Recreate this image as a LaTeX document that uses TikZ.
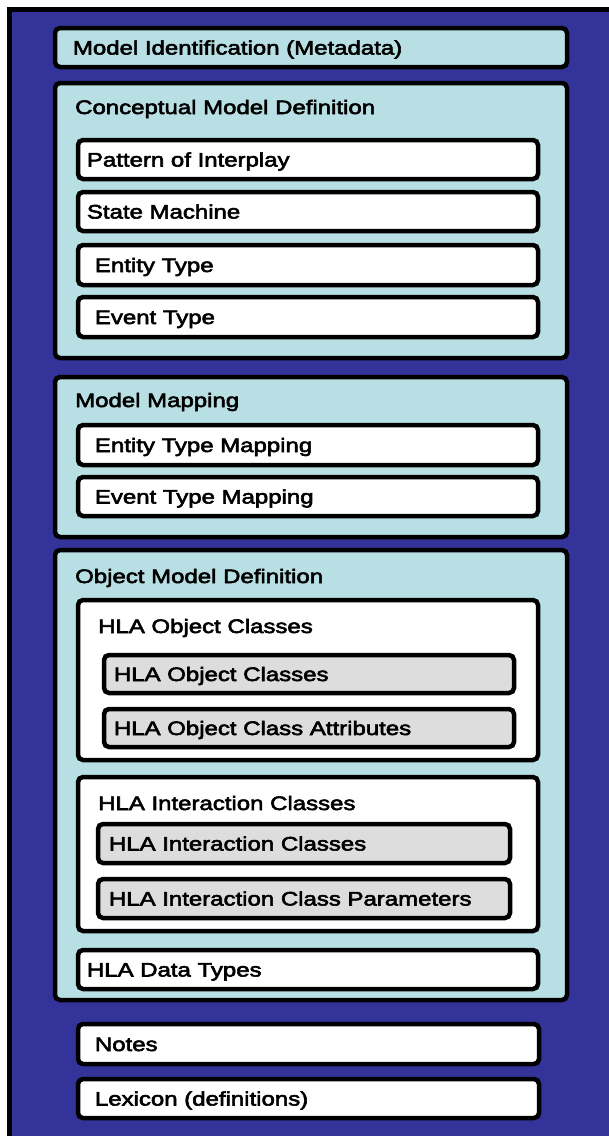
\documentclass[tikz,border=0pt]{standalone}
\usepackage{fontspec}
\setmainfont{Liberation Sans}[FakeStretch=1.23,FakeBold=3]
\usetikzlibrary{fit}
\definecolor{bgblue}{RGB}{51,51,153}
\definecolor{panelcyan}{RGB}{184,224,228}
\definecolor{itemgray}{RGB}{221,221,221}
\tikzset{
  frame/.style={draw=black, line width=4.5bp, rounded corners=5bp, inner sep=0pt},
  cyanbox/.style={frame, fill=panelcyan},
  whitebox/.style={frame, fill=white},
  graybox/.style={frame, fill=itemgray},
  txt/.style={font=\fontsize{19.5bp}{22bp}\selectfont, text=black, inner sep=0pt,
              text height=14bp, text depth=0pt, anchor=west},
}
\begin{document}
\begin{tikzpicture}[x=1bp, y=-1bp]
  % page and outer frame
  \fill[white] (0,0) rectangle (609,1136);
  \useasboundingbox (0,0) rectangle (609,1136);
  \fill[black] (7,7) rectangle (609,1136);
  \fill[bgblue] (12,12) rectangle (609,1136);

  % model identification
  \node[cyanbox, fit={(55,28) (567,67)}] (ident) {};
  \node[txt] (identT) at ([xshift=20bp]ident.west) {Model Identification (Metadata)};

  % conceptual model definition
  \node[cyanbox, fit={(55,83) (567,358)}] (concept) {};
  \node[txt] (conceptT) at (75,107) {Conceptual Model Definition};
  \node[whitebox, fit={(78,140) (538,179)}] (pattern) {};
  \node[txt] (patternT) at ([xshift=11bp]pattern.west) {Pattern of Interplay};
  \node[whitebox, fit={(78,192) (538,231)}] (state) {};
  \node[txt] (stateT) at ([xshift=11bp]state.west) {State Machine};
  \node[whitebox, fit={(78,245) (538,285)}] (entity) {};
  \node[txt] (entityT) at ([xshift=19bp]entity.west) {Entity Type};
  \node[whitebox, fit={(78,297) (538,337)}] (event) {};
  \node[txt] (eventT) at ([xshift=19bp]event.west) {Event Type};

  % model mapping
  \node[cyanbox, fit={(55,377) (567,537)}] (mapping) {};
  \node[txt] (mappingT) at (75,400) {Model Mapping};
  \node[whitebox, fit={(78,425) (538,465)}] (entmap) {};
  \node[txt] (entmapT) at ([xshift=19bp]entmap.west) {Entity Type Mapping};
  \node[whitebox, fit={(78,477) (538,516)}] (evmap) {};
  \node[txt] (evmapT) at ([xshift=19bp]evmap.west) {Event Type Mapping};

  % object model definition
  \node[cyanbox, fit={(55,550) (567,1000)}] (omd) {};
  \node[txt] (omdT) at (75,576) {Object Model Definition};

  \node[whitebox, fit={(78,600) (538,760)}] (objcls) {};
  \node[txt] (objclsT) at (98,626) {HLA Object Classes};
  \node[graybox, fit={(104,655) (514,693)}] (objcls1) {};
  \node[txt] (objcls1T) at ([xshift=12bp]objcls1.west) {HLA Object Classes};
  \node[graybox, fit={(104,709) (514,747)}] (objattr) {};
  \node[txt] (objattrT) at ([xshift=12bp]objattr.west) {HLA Object Class Attributes};

  \node[whitebox, fit={(78,777) (538,931)}] (intcls) {};
  \node[txt] (intclsT) at (98,803) {HLA Interaction Classes};
  \node[graybox, fit={(98,824) (510,863)}] (intcls1) {};
  \node[txt] (intcls1T) at ([xshift=13bp]intcls1.west) {HLA Interaction Classes};
  \node[graybox, fit={(98,879) (510,918)}] (intpar) {};
  \node[txt] (intparT) at ([xshift=13bp]intpar.west) {HLA Interaction Class Parameters};

  \node[whitebox, fit={(78,950) (538,989)}] (dtypes) {};
  \node[txt] (dtypesT) at ([xshift=11bp]dtypes.west) {HLA Data Types};

  % notes and lexicon
  \node[whitebox, fit={(78,1024) (539,1064)}] (notes) {};
  \node[txt] (notesT) at ([xshift=19bp]notes.west) {Notes};
  \node[whitebox, fit={(78,1079) (539,1118)}] (lexicon) {};
  \node[txt] (lexiconT) at ([xshift=19bp]lexicon.west) {Lexicon (definitions)};
\end{tikzpicture}
\end{document}
